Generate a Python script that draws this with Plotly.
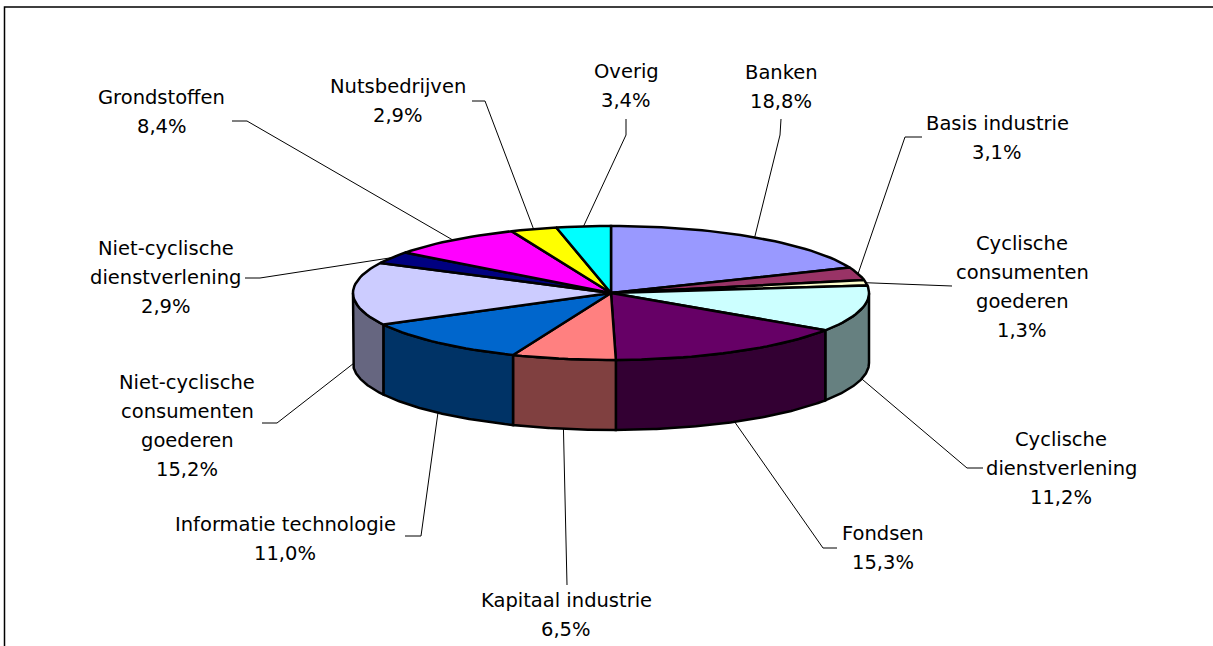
import numpy as np
import plotly.graph_objects as go

# ---------------- data ----------------
labels = ["Banken", "Basis industrie", "Cyclische consumenten goederen",
          "Cyclische dienstverlening", "Fondsen", "Kapitaal industrie",
          "Informatie technologie", "Niet-cyclische consumenten goederen",
          "Niet-cyclische dienstverlening", "Grondstoffen", "Nutsbedrijven", "Overig"]
values = [18.8, 3.1, 1.3, 11.2, 15.3, 6.5, 11.0, 15.2, 2.9, 8.4, 2.9, 3.4]
label_lines = [["Banken"], ["Basis industrie"], ["Cyclische", "consumenten", "goederen"],
               ["Cyclische", "dienstverlening"], ["Fondsen"], ["Kapitaal industrie"],
               ["Informatie technologie"], ["Niet-cyclische", "consumenten", "goederen"],
               ["Niet-cyclische", "dienstverlening"], ["Grondstoffen"], ["Nutsbedrijven"], ["Overig"]]

# ---------------- styles ----------------
top_colors = ["#9999FF", "#993366", "#FFFFCC", "#CCFFFF", "#660066", "#FF8080",
              "#0066CC", "#CCCCFF", "#000080", "#FF00FF", "#FFFF00", "#00FFFF"]
side_colors = ["#4D4D80", "#4D1A33", "#808066", "#668080", "#330033", "#804040",
               "#003366", "#666680", "#000040", "#800080", "#808000", "#008080"]

# ---------------- layout (pixel space) ----------------
W, H = 1213, 646
CX, CY, RX, RY, DEPTH = 611, 293, 258, 67, 70
LINE_SP = 29
FONT = dict(family="DejaVu Sans", size=19.5, color="black")

label_pos = [(781, 72), (997, 123), (1022, 243), (1061, 439), (883, 533), (566, 600),
             (285, 524), (187, 382), (165.5, 248), (161.5, 97), (397.5, 86), (626, 71)]
leader_pts = [[(780, 135), (781, 119)], [(905, 137), (922, 137)], [(952, 286)],
              [(967, 468), (983, 468)], [(823, 548), (837, 548)], [(567, 585)],
              [(421, 536), (405, 536)], [(277, 423), (262, 423)], [(260, 278), (245, 278)],
              [(247, 121), (232, 121)], [(485, 101), (472, 101)], [(626, 135), (626, 119)]]


def rim(theta, drop=0.0):
    return CX + RX * np.sin(theta), CY - RY * np.cos(theta) + drop


fig = go.Figure()

vals = np.array(values, dtype=float)
frac = vals / vals.sum()
cum = np.concatenate([[0], np.cumsum(frac)])
t0s = 2 * np.pi * cum[:-1]
t1s = 2 * np.pi * cum[1:]

# side faces (front half only)
for i in range(len(vals)):
    a = max(t0s[i], np.pi / 2)
    b = min(t1s[i], 3 * np.pi / 2)
    if b <= a:
        continue
    th = np.linspace(a, b, 80)
    xt, yt = rim(th)
    xb, yb = rim(th[::-1], DEPTH)
    xs = np.concatenate([xt, xb, xt[:1]])
    ys = np.concatenate([yt, yb, yt[:1]])
    fig.add_trace(go.Scatter(x=xs, y=ys, mode="lines", fill="toself",
                             fillcolor=side_colors[i], line=dict(color="black", width=2.5),
                             hoverinfo="skip", showlegend=False))

# top faces
for i in range(len(vals)):
    th = np.linspace(t0s[i], t1s[i], max(6, int(200 * frac[i])))
    xt, yt = rim(th)
    xs = np.concatenate([[CX], xt, [CX]])
    ys = np.concatenate([[CY], yt, [CY]])
    fig.add_trace(go.Scatter(x=xs, y=ys, mode="lines", fill="toself",
                             fillcolor=top_colors[i], line=dict(color="black", width=2.5),
                             hoverinfo="skip", showlegend=False))

# leader lines and labels
annotations = []
for i in range(len(vals)):
    tm = (t0s[i] + t1s[i]) / 2
    drop = DEPTH if np.cos(tm) < 0 else 0
    x0, y0 = rim(tm, drop)
    pts = [(x0, y0)] + leader_pts[i]
    fig.add_trace(go.Scatter(x=[p[0] for p in pts], y=[p[1] for p in pts], mode="lines",
                             line=dict(color="black", width=1), hoverinfo="skip",
                             showlegend=False))
    lines = label_lines[i] + [f"{values[i]:.1f}%".replace(".", ",")]
    lx, ly = label_pos[i]
    for k, txt in enumerate(lines):
        annotations.append(dict(x=lx, y=ly + k * LINE_SP, text=txt, showarrow=False,
                                xanchor="center", yanchor="middle", font=FONT,
                                xref="x", yref="y"))

fig.update_layout(
    width=W, height=H, margin=dict(l=0, r=0, t=0, b=0),
    paper_bgcolor="white", plot_bgcolor="white",
    xaxis=dict(range=[0, W], visible=False, fixedrange=True),
    yaxis=dict(range=[H, 0], visible=False, fixedrange=True),
    annotations=annotations,
    shapes=[dict(type="rect", xref="x", yref="y", x0=4.5, y0=7, x1=W + 10, y1=H + 10,
                 line=dict(color="black", width=1.5), fillcolor="rgba(0,0,0,0)")],
)

fig.write_html("out.html", config={"displayModeBar": False},
               post_script="document.body.style.margin='0';")
